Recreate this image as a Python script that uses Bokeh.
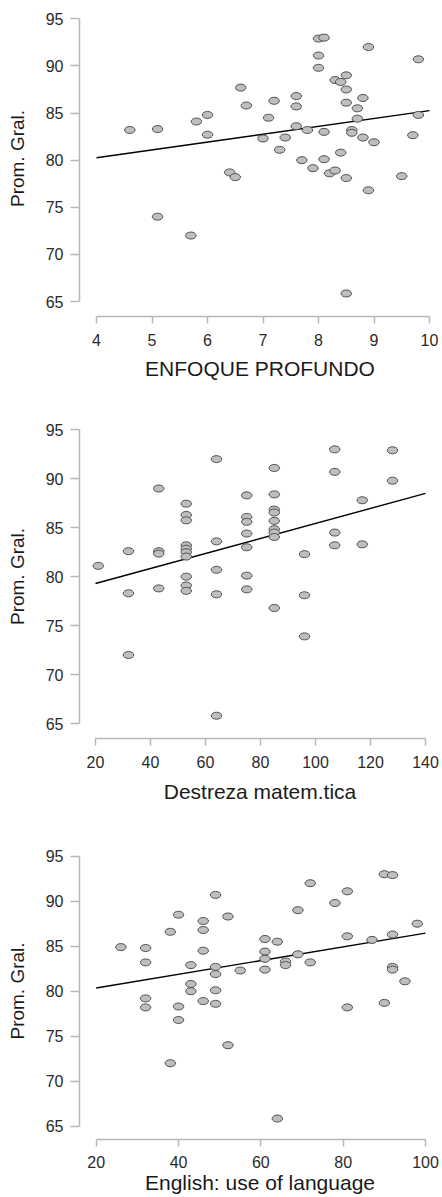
from bokeh.plotting import figure
from bokeh.layouts import column
from bokeh.models import FixedTicker, Range1d
from bokeh.embed import file_html
from bokeh.resources import INLINE

# ---------------- data ----------------
y_title = "Prom. Gral."
y_ticks = [65, 70, 75, 80, 85, 90, 95]

# Panel 1: ENFOQUE PROFUNDO
enfoque_title = "ENFOQUE PROFUNDO"
enfoque_ticks = [4, 5, 6, 7, 8, 9, 10]
enfoque_x = [4.6, 5.1, 5.1, 5.7, 5.8, 6.0, 6.0, 6.4, 6.5, 6.6, 6.7, 7.0, 7.1, 7.2, 7.3, 7.4,
             7.6, 7.6, 7.6, 7.7, 7.8, 7.9, 8.0, 8.1, 8.0, 8.0, 8.1, 8.1, 8.2, 8.3, 8.3, 8.4,
             8.4, 8.5, 8.5, 8.5, 8.5, 8.5, 8.6, 8.6, 8.7, 8.7, 8.8, 8.8, 8.9, 8.9, 9.0, 9.5,
             9.7, 9.8, 9.8]
enfoque_y = [83.2, 83.3, 74.0, 72.0, 84.1, 84.8, 82.7, 78.7, 78.2, 87.7, 85.8, 82.3, 84.5, 86.3, 81.1, 82.4,
             86.8, 85.7, 83.6, 80.0, 83.2, 79.15, 92.9, 93.0, 91.1, 89.8, 83.0, 80.1, 78.6, 78.9, 88.5, 88.3,
             80.8, 89.0, 87.5, 86.1, 78.1, 65.85, 83.2, 82.9, 85.5, 84.4, 86.6, 82.4, 92.0, 76.8, 81.9, 78.3,
             82.65, 90.7, 84.8]
enfoque_fit_x = [4, 10]
enfoque_fit_y = [80.25, 85.25]

# Panel 2: Destreza matem.tica
destreza_title = "Destreza matem.tica"
destreza_ticks = [20, 40, 60, 80, 100, 120, 140]
destreza_x = [21, 32, 32, 32, 43, 43, 43, 43, 53, 53, 53, 53, 53, 53, 53, 53, 53, 53,
              64, 64, 64, 64, 64, 75, 75, 75, 75, 75, 75, 75, 85, 85, 85, 85, 85, 85, 85, 85, 85,
              96, 96, 96, 107, 107, 107, 107, 117, 117, 128, 128]
destreza_y = [81.1, 82.6, 78.3, 72.0, 89.0, 82.6, 82.35, 78.8, 87.45, 86.3, 85.75, 83.2, 82.85, 82.5, 82.05, 80.0, 79.1, 78.55,
              92.0, 83.6, 80.7, 78.2, 65.8, 88.3, 86.1, 85.6, 84.4, 83.0, 80.1, 78.7, 91.1, 88.4, 86.85, 86.55, 85.7, 84.85, 84.5, 84.05, 76.8,
              82.3, 78.1, 73.9, 93.0, 90.7, 84.5, 83.2, 87.8, 83.3, 92.9, 89.8]
destreza_fit_x = [20, 140]
destreza_fit_y = [79.3, 88.5]

# Panel 3: English: use of language
english_title = "English: use of language"
english_ticks = [20, 40, 60, 80, 100]
english_x = [26, 32, 32, 32, 32, 38, 38, 40, 40, 40, 43, 43, 43, 46, 46, 46, 46, 49, 49, 49, 49, 49,
             52, 52, 55, 61, 61, 61, 61, 64, 64, 66, 66, 69, 69, 72, 72, 78, 81, 81, 81, 87, 90, 90,
             92, 92, 92, 92, 95, 98]
english_y = [84.9, 84.8, 83.2, 79.2, 78.2, 86.6, 72.0, 88.5, 78.3, 76.8, 82.9, 80.8, 80.0, 87.8, 86.8, 84.5, 78.9,
             90.7, 82.7, 81.9, 80.1, 78.6, 88.3, 74.0, 82.3, 85.8, 84.4, 83.6, 82.4, 85.5, 65.85, 83.3, 82.9,
             89.0, 84.1, 92.0, 83.2, 89.8, 91.1, 86.1, 78.2, 85.7, 93.0, 78.7, 92.9, 86.3, 82.7, 82.4, 81.1, 87.5]
english_fit_x = [20, 100]
english_fit_y = [80.35, 86.45]

# ---------------- layout helpers ----------------
FONT = "Liberation Sans"
AXIS_GRAY = "#b8b8b8"
FIG_W = 440
FRAME_L, FRAME_R = 79, 0  # frame spans page x 79..440 (page body has no margin)


def lin(v0, p0, v1, p1, px):
    return v0 + (px - p0) * (v1 - v0) / (p1 - p0)


def panel(xs, ys, fx, fy, xticks, xtitle, xanchor, yanchor, fig_top, frame_top, frame_bot, fig_bot,
          lab_stand, title_stand):
    # xanchor = (v0, px0, v1, px1) in page pixels, yanchor likewise
    left_px, right_px = FRAME_L, FIG_W - FRAME_R
    xr = Range1d(lin(*xanchor, left_px), lin(*xanchor, right_px))
    yr = Range1d(lin(*yanchor, frame_bot), lin(*yanchor, frame_top))
    p = figure(width=FIG_W, height=fig_bot - fig_top, x_range=xr, y_range=yr,
               output_backend="svg", toolbar_location=None,
               min_border_left=FRAME_L, min_border_right=FRAME_R,
               min_border_top=frame_top - fig_top, min_border_bottom=fig_bot - frame_bot)
    p.outline_line_color = None
    p.grid.visible = False
    p.background_fill_color = "white"
    p.border_fill_color = "white"

    p.line(fx, fy, line_color="black", line_width=1.4)
    p.ellipse(x=xs, y=ys, width=10.5, height=7, width_units="screen", height_units="screen",
              fill_color="#bebebe", line_color="#4f4f4f", line_width=1)

    xa, ya = p.xaxis[0], p.yaxis[0]
    xa.ticker = FixedTicker(ticks=xticks)
    ya.ticker = FixedTicker(ticks=y_ticks)
    xa.bounds = (xticks[0], xticks[-1])
    ya.bounds = (y_ticks[0], y_ticks[-1])
    xa.axis_label = xtitle
    ya.axis_label = y_title
    for ax in (xa, ya):
        ax.axis_line_color = AXIS_GRAY
        ax.axis_line_width = 1.5
        ax.major_tick_line_color = AXIS_GRAY
        ax.major_tick_line_width = 1.5
        ax.minor_tick_line_color = None
        ax.major_tick_in = 0
        ax.major_label_text_font = FONT
        ax.major_label_text_font_size = "16px"
        ax.major_label_text_color = "#2a2a2a"
        ax.axis_label_text_font = FONT
        ax.axis_label_text_font_style = "normal"
        ax.axis_label_text_color = "#1a1a1a"
    xa.major_tick_out = 7
    ya.major_tick_out = 9
    xa.major_label_standoff = lab_stand
    ya.major_label_standoff = 7
    xa.axis_label_standoff = title_stand
    ya.axis_label_standoff = 15
    xa.axis_label_text_font_size = "21px"
    ya.axis_label_text_font_size = "19px"
    return p


p1 = panel(enfoque_x, enfoque_y, enfoque_fit_x, enfoque_fit_y, enfoque_ticks, enfoque_title,
           (4, 96, 10, 429), (95, 18.3, 65, 301),
           0, 0, 316, 395, 10, 8)
p2 = panel(destreza_x, destreza_y, destreza_fit_x, destreza_fit_y, destreza_ticks, destreza_title,
           (20, 95, 140, 425), (95, 429.3, 65, 724),
           395, 414, 739, 805, 10, 9)
p3 = panel(english_x, english_y, english_fit_x, english_fit_y, english_ticks, english_title,
           (20, 95.7, 100, 425), (95, 855.7, 65, 1125.7),
           805, 842, 1139, 1196, 9, 0)

layout = column(p1, p2, p3, spacing=0)
open("out.html", "w").write(file_html(layout, INLINE))
